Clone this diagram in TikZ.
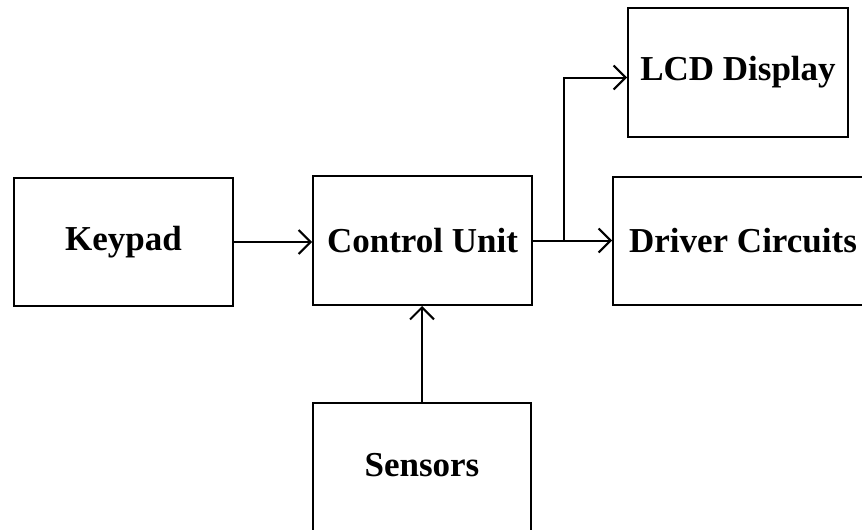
\documentclass[tikz,border=0pt]{standalone}
\usepackage{fontspec}
\setmainfont{Liberation Serif}
\usetikzlibrary{arrows.meta}
\usetikzlibrary{positioning}

\begin{document}
\begin{tikzpicture}[
  x=1pt,y=-1pt,
  block/.style={draw,line width=2pt,inner sep=0pt,
    font=\fontsize{35}{40}\selectfont\bfseries},
  link/.style={line width=2pt,-{Straight Barb[length=12pt,width=24pt]}}
]
\useasboundingbox (0,0) rectangle (862,530);
% blocks
\node[block,minimum width=219pt,minimum height=128pt] (keypad) at (123.5,242) {Keypad};
\node[block,minimum width=219pt,minimum height=129pt] (control) at (422.5,240.5) {Control Unit};
\node[block,minimum width=220pt,minimum height=129pt] (lcd) at (738,72.5) {LCD Display};
\node[block,minimum width=260pt,minimum height=128pt] (driver) at (743,241) {Driver Circuits};
\node[block,minimum width=218pt,minimum height=136pt,text depth=12pt] (sensors) at (422,471) {Sensors};
% connections
\coordinate (split) at (564,0);
\draw[link] (keypad.east) -- (keypad.east -| control.west);
\draw[link] (sensors.north) -- (sensors.north |- control.south);
\draw[link] (control.east) -- (control.east -| driver.west);
\draw[link] (split |- control.east) |- ([yshift=-5pt]lcd.west);
\end{tikzpicture}
\end{document}
